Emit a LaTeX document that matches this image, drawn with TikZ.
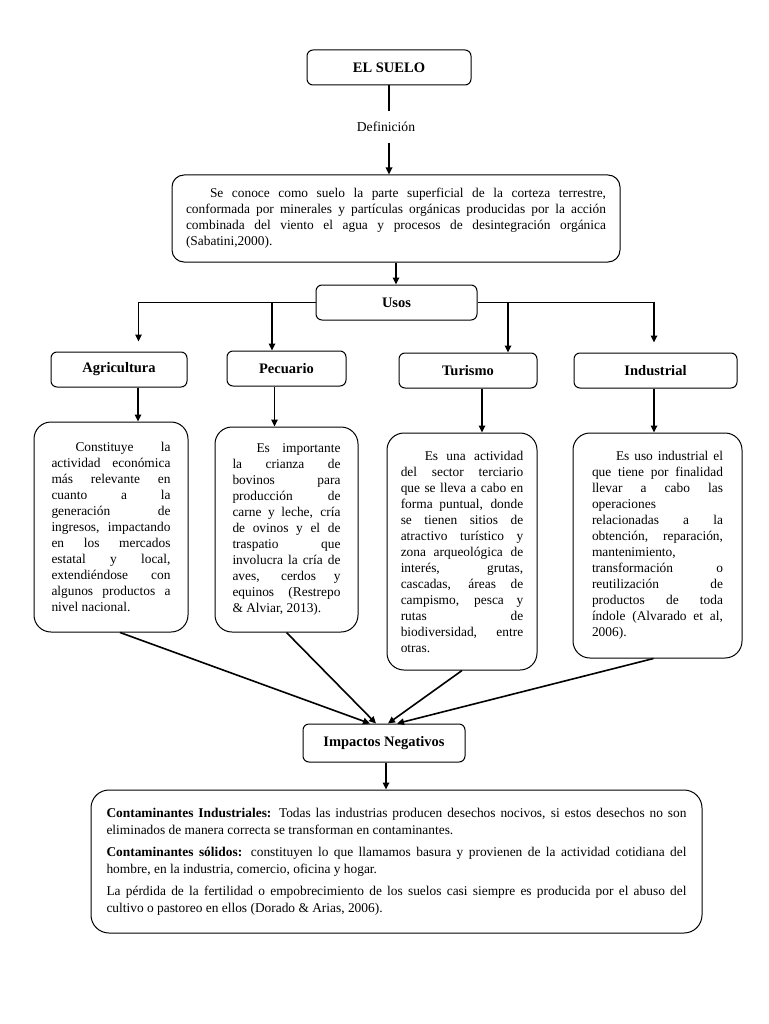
\documentclass[tikz,border=0pt]{standalone}
\usepackage{fontspec}
\setmainfont{Liberation Serif}
\usetikzlibrary{arrows.meta}
\tolerance=10000
\hbadness=10000
\hyphenpenalty=10000
\exhyphenpenalty=10000
\tikzset{
  hdr/.style={draw, rounded corners=6pt, line width=1pt, inner sep=0pt,
    font=\bfseries\fontsize{14.5}{16}\selectfont},
  txtbox/.style={draw, rounded corners=17pt, line width=1pt, inner sep=0pt, align=justify,
    font=\fontsize{13.4}{16}\selectfont},
  plain/.style={inner sep=0pt, font=\fontsize{13.6}{16}\selectfont},
  arr/.style={line width=1.6pt, -{Triangle[length=7pt,width=6.5pt]}},
  ln/.style={line width=1.6pt},
}
\begin{document}
\begin{tikzpicture}[x=1pt,y=-1pt]
\useasboundingbox[fill=white] (0,0) rectangle (768,1024);

% top
\node[hdr, minimum width=164pt, minimum height=35pt] (suelo) at (389,67.5) {EL SUELO};
\node[plain, minimum height=31pt] (defl) at (386,127) {Definición};
\node[txtbox, rounded corners=12pt, text width=420pt, minimum width=448pt, minimum height=87pt] (defbox) at (396,218.5)
{\hspace*{24pt}Se conoce como suelo la parte superficial de la corteza terrestre,\linebreak
conformada por minerales y partículas orgánicas producidas por la acción\linebreak
combinada del viento el agua y procesos de desintegración orgánica\linebreak
(Sabatini,2000).};
\node[hdr, minimum width=161pt, minimum height=35pt] (usos) at (396.5,302.5) {Usos};

% headers
\node[hdr, minimum width=136pt, minimum height=35pt] (agrih) at (119,369.5) {Agricultura};
\node[hdr, minimum width=119pt, minimum height=35pt] (pecuh) at (286.5,368.5) {Pecuario};
\node[hdr, minimum width=138pt, minimum height=35pt] (turh) at (468,370.5) {Turismo};
\node[hdr, minimum width=163pt, minimum height=35pt] (indh) at (655.5,370.5) {Industrial};

% text boxes
\node[txtbox, text width=119pt, minimum width=154pt, minimum height=210pt] (agrit) at (111,527)
{\hspace*{24pt}Constituye la\linebreak actividad económica\linebreak más relevante en\linebreak
cuanto a la\linebreak generación de\linebreak ingresos, impactando\linebreak en los mercados\linebreak
estatal y local,\linebreak extendiéndose con\linebreak algunos productos a\linebreak nivel nacional.};
\node[txtbox, text width=108pt, minimum width=143pt, minimum height=205pt] (pecut) at (286.5,529.5)
{\hspace*{24pt}Es importante\linebreak la crianza de\linebreak bovinos para\linebreak producción de\linebreak
carne y leche, cría\linebreak de ovinos y el de\linebreak traspatio que\linebreak involucra la cría de\linebreak
aves, cerdos y\linebreak equinos (Restrepo\linebreak \& Alviar, 2013).};
\node[txtbox, text width=122.5pt, minimum width=150pt, minimum height=237pt] (turt) at (462,551.5)
{\hspace*{24pt}Es una actividad\linebreak del sector terciario\linebreak que se lleva a cabo en\linebreak
forma puntual, donde\linebreak se tienen sitios de\linebreak atractivo turístico y\linebreak
zona arqueológica de\linebreak interés, grutas,\linebreak cascadas, áreas de\linebreak campismo, pesca y\linebreak
rutas de\linebreak biodiversidad, entre\linebreak otras.};
\node[txtbox, text width=131pt, minimum width=169pt, minimum height=225pt] (indt) at (657.5,545.5)
{\hspace*{24pt}Es uso industrial el\linebreak que tiene por finalidad\linebreak llevar a cabo las\linebreak
operaciones\newline relacionadas a la\linebreak obtención, reparación,\linebreak mantenimiento,\newline
transformación o\linebreak reutilización de\linebreak productos de toda\linebreak índole (Alvarado et al,\linebreak 2006).};

% bottom
\node[hdr, minimum width=162pt, minimum height=38pt] (imp) at (384,743) {Impactos Negativos};
\node[txtbox, rounded corners=18pt, text width=580pt, minimum width=611pt, minimum height=143pt,
  font=\fontsize{13.4}{17}\selectfont] (bot) at (396.5,861.5)
{\setlength{\parskip}{5pt}\textbf{Contaminantes Industriales:} Todas las industrias producen desechos nocivos, si estos desechos no son\linebreak
eliminados de manera correcta se transforman en contaminantes.\par
\textbf{Contaminantes sólidos:} constituyen lo que llamamos basura y provienen de la actividad cotidiana del\linebreak
hombre, en la industria, comercio, oficina y hogar.\par
La pérdida de la fertilidad o empobrecimiento de los suelos casi siempre es producida por el abuso del\linebreak
cultivo o pastoreo en ellos (Dorado \& Arias, 2006).};

% connectors top
\draw[ln] (suelo.south) -- (suelo.south |- defl.north);
\draw[arr] (defl.south -| suelo.south) -- (suelo.south |- defbox.north);
\draw[arr] (defbox.south) -- (defbox.south |- usos.north);

% usos distribution
\coordinate (xA) at (138.5,0);
\coordinate (xP) at (272,0);
\coordinate (xT) at (508,0);
\coordinate (xI) at (654,0);
\coordinate (tA) at ([yshift=10pt]agrih.north);
\coordinate (tI) at ([yshift=10pt]indh.north);
\draw[arr] (usos.west) -| (xA |- tA);
\draw[arr] (usos.east) -| (xI |- tI);
\draw[arr] (xP |- usos.west) -- (xP |- pecuh.north);
\draw[arr] (xT |- usos.east) -- (xT |- turh.north);

% header to text
\coordinate (xA2) at (138,0);
\coordinate (xP2) at (274.5,0);
\coordinate (xT2) at (482,0);
\draw[arr] (xA2 |- agrih.south) -- (xA2 |- agrit.north);
\draw[arr] (xP2 |- pecuh.south) -- (xP2 |- pecut.north);
\draw[arr] (xT2 |- turh.south) -- (xT2 |- turt.north);
\draw[arr] (xI |- indh.south) -- (xI |- indt.north);

% converging
\draw[arr] ([xshift=9pt]agrit.south) -- ([xshift=-14pt]imp.north);
\draw[arr] (pecut.south) -- ([xshift=-8pt]imp.north);
\draw[arr] (turt.south) -- ([xshift=4pt]imp.north);
\draw[arr] ([xshift=-4pt]indt.south) -- ([xshift=13pt]imp.north);

\draw[arr] ([xshift=2pt]imp.south) -- ([xshift=2pt]imp.south |- bot.north);
\end{tikzpicture}
\end{document}
